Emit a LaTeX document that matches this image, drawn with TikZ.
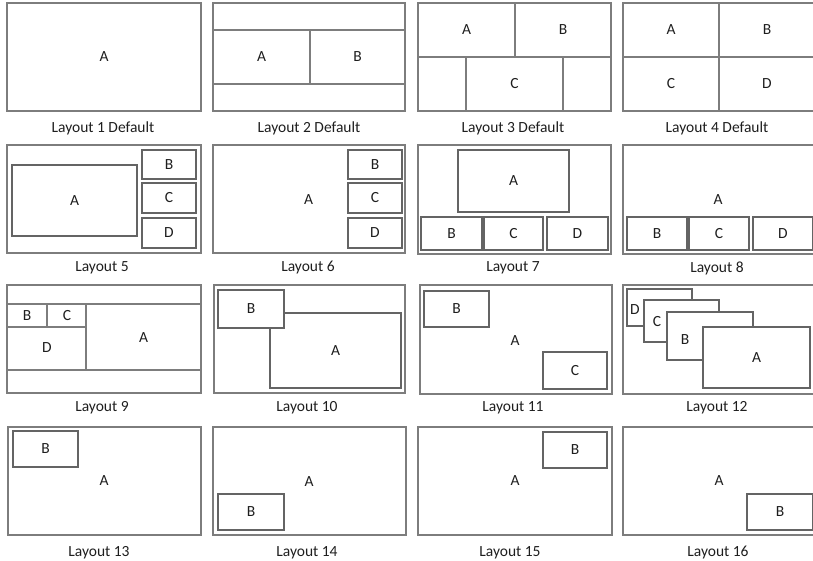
\documentclass[tikz,border=0pt]{standalone}
\usepackage{fontspec}
\setmainfont{Carlito}
\usepackage{tikz}
\usepackage{xcolor}
\usetikzlibrary{calc}

\definecolor{framegray}{RGB}{125,125,125}
\definecolor{wingray}{RGB}{100,100,100}
\definecolor{inkgray}{RGB}{30,30,30}

\tikzset{
  frame/.style={draw=framegray, line width=1.3pt},
  win/.style={draw=wingray, fill=white, line width=1.1pt},
  txt/.style={inner sep=0pt, text=inkgray, font=\fontsize{15.5}{18}\selectfont},
  caption/.style={txt}
}

% a window: name, corner, corner, letter
\newcommand{\win}[4]{%
  \draw[win] #2 rectangle #3;
  \node[txt] (#1) at ($#2!0.5!#3$) {#4};}

\begin{document}
\begin{tikzpicture}[x=1pt, y=-1pt]
    \useasboundingbox (0,0) rectangle (813,561);
    \clip (0,0) rectangle (813,561);

    % Row 1
    \draw[frame] (7,3) rectangle (201,111);
    \node[txt] (l1a) at (104,57) {A};
    \node[caption] (c1) at (103,128) {Layout 1 Default};

    \draw[frame] (213,3) rectangle (405,111);
    \draw[frame] (213,30) -- (405,30);
    \draw[frame] (213,84) -- (405,84);
    \draw[frame] (310,30) -- (310,84);
    \node[txt] (l2a) at (261.5,57) {A};
    \node[txt] (l2b) at (357.5,57) {B};
    \node[caption] (c2) at (309,128) {Layout 2 Default};

    \draw[frame] (418,3) rectangle (611,111);
    \draw[frame] (418,57) -- (611,57);
    \draw[frame] (515,3) -- (515,57);
    \draw[frame] (466,57) -- (466,111);
    \draw[frame] (563,57) -- (563,111);
    \node[txt] (l3a) at (466.5,30) {A};
    \node[txt] (l3b) at (563,30) {B};
    \node[txt] (l3c) at (514.5,84) {C};
    \node[caption] (c3) at (513,128) {Layout 3 Default};

    \draw[frame] (623,3) rectangle (817,111);
    \draw[frame] (623,57) -- (817,57);
    \draw[frame] (719,3) -- (719,111);
    \node[txt] (l4a) at (671,30) {A};
    \node[txt] (l4b) at (767,30) {B};
    \node[txt] (l4c) at (671,84) {C};
    \node[txt] (l4d) at (767,84) {D};
    \node[caption] (c4) at (717,128) {Layout 4 Default};

    % Row 2
    \draw[frame] (7,145) rectangle (201,253);
    \win{l5a}{(12,165)}{(137,236)}{A}
    \win{l5b}{(142,150)}{(196,179)}{B}
    \win{l5c}{(142,183)}{(196,213)}{C}
    \win{l5d}{(142,218)}{(196,248)}{D}
    \node[caption] (c5) at (102,268) {Layout 5};

    \draw[frame] (213,145) rectangle (405,253);
    \node[txt] (l6a) at (308.5,200) {A};
    \win{l6b}{(348,150)}{(402,179)}{B}
    \win{l6c}{(348,183)}{(402,213)}{C}
    \win{l6d}{(348,218)}{(402,248)}{D}
    \node[caption] (c6) at (308,268) {Layout 6};

    \draw[frame] (418,145) rectangle (611,254);
    \win{l7a}{(458,150)}{(569,212)}{A}
    \win{l7b}{(421,217)}{(482,250)}{B}
    \win{l7c}{(484,217)}{(543,250)}{C}
    \win{l7d}{(547,217)}{(608,250)}{D}
    \node[caption] (c7) at (513,268) {Layout 7};

    \draw[frame] (623,145) rectangle (817,254);
    \node[txt] (l8a) at (718,200) {A};
    \win{l8b}{(627,217)}{(687,250)}{B}
    \win{l8c}{(689,217)}{(749,250)}{C}
    \win{l8d}{(753,217)}{(813,250)}{D}
    \node[caption] (c8) at (717,268) {Layout 8};

    % Row 3
    \draw[frame] (7,285) rectangle (201,393);
    \draw[frame] (7,304) -- (201,304);
    \draw[frame] (7,370) -- (201,370);
    \draw[frame] (86,304) -- (86,370);
    \draw[frame] (7,327) -- (86,327);
    \draw[frame] (47,304) -- (47,327);
    \node[txt] (l9b) at (27,316) {B};
    \node[txt] (l9c) at (67,316) {C};
    \node[txt] (l9d) at (47,348) {D};
    \node[txt] (l9a) at (143.5,338) {A};
    \node[caption] (c9) at (102,408) {Layout 9};

    \draw[frame] (214,285) rectangle (405,393);
    \win{l10a}{(270,313)}{(401,388)}{A}
    \win{l10b}{(218,290)}{(284,328)}{B}
    \node[caption] (c10) at (307,408) {Layout 10};

    \draw[frame] (420,285) rectangle (612,394);
    \node[txt] (l11a) at (515,341) {A};
    \win{l11b}{(424,291)}{(489,327)}{B}
    \win{l11c}{(543,352)}{(607,389)}{C}
    \node[caption] (c11) at (513,408) {Layout 11};

    \draw[frame] (623,285) rectangle (817,394);
    \draw[win] (627,289) rectangle (692,326);
    \node[txt] (l12d) at (635,310) {D};
    \draw[win] (644,300) rectangle (719,342);
    \node[txt] (l12c) at (657,322) {C};
    \draw[win] (667,312) rectangle (753,360);
    \node[txt] (l12b) at (685,340) {B};
    \win{l12a}{(703,327)}{(810,388)}{A}
    \node[caption] (c12) at (717,408) {Layout 12};

    % Row 4
    \draw[frame] (8,427) rectangle (201,535);
    \node[txt] (l13a) at (104,481) {A};
    \win{l13b}{(13,431)}{(78,467)}{B}
    \node[caption] (c13) at (99,553) {Layout 13};

    \draw[frame] (213,427) rectangle (406,535);
    \node[txt] (l14a) at (309,482) {A};
    \win{l14b}{(218,494)}{(284,530)}{B}
    \node[caption] (c14) at (307,553) {Layout 14};

    \draw[frame] (418,427) rectangle (612,535);
    \node[txt] (l15a) at (515,481) {A};
    \win{l15b}{(543,432)}{(607,468)}{B}
    \node[caption] (c15) at (510,553) {Layout 15};

    \draw[frame] (623,427) rectangle (817,535);
    \node[txt] (l16a) at (719,481) {A};
    \win{l16b}{(747,494)}{(813,530)}{B}
    \node[caption] (c16) at (718,553) {Layout 16};
\end{tikzpicture}
\end{document}
